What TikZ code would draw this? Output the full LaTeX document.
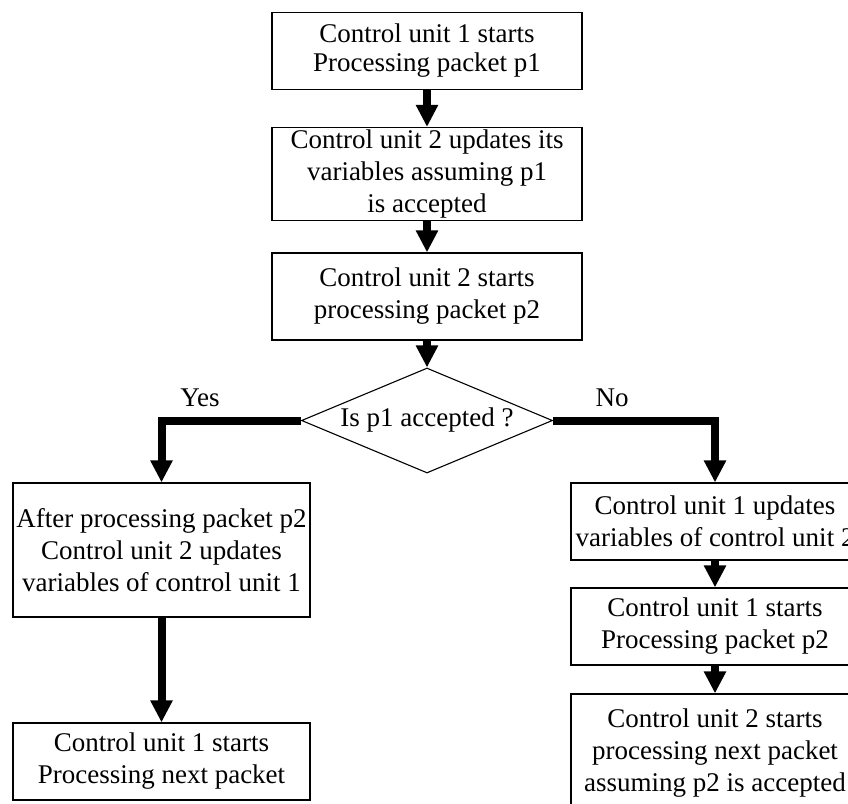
\documentclass[tikz,border=0pt]{standalone}
\usepackage{fontspec}
\setmainfont{Liberation Serif}
\usetikzlibrary{arrows.meta,shapes.geometric}

\tikzset{
  stepbox/.style={draw, line width=1.2pt, rectangle, inner sep=0pt,
    align=center, font=\fontsize{27}{32}\selectfont},
  decision/.style={draw, line width=1.1pt, diamond, aspect=2.39, inner sep=0pt,
    minimum width=251pt, minimum height=105pt,
    font=\fontsize{27}{32}\selectfont},
  flow/.style={line width=8pt, -{Triangle[length=22pt,width=21pt]}},
  branchlabel/.style={font=\fontsize{27}{32}\selectfont, inner sep=0pt}
}

\begin{document}
\begin{tikzpicture}[x=1pt, y=-1pt]
  \useasboundingbox (0,0) rectangle (848,803);
  \clip (0,0) rectangle (848,803);

  % main column
  \node[stepbox, minimum width=310pt, minimum height=77pt,
        font=\fontsize{27}{29}\selectfont] (s1) at (427,51)
    {Control unit 1 starts\\Processing packet p1};
  \node[stepbox, minimum width=310pt, minimum height=93pt] (s2) at (427,174)
    {Control unit 2 updates its\\variables assuming p1\\is accepted};
  \node[stepbox, minimum width=310pt, minimum height=87pt] (s3) at (427,296.5)
    {Control unit 2 starts\\processing packet p2};
  \node[decision] (d) at (427,420.5) {Is p1 accepted ?};

  % accepted branch
  \node[stepbox, minimum width=297pt, minimum height=134pt] (y1) at (161.5,550)
    {After processing packet p2\\Control unit 2 updates\\variables of control unit 1};
  \node[stepbox, minimum width=297pt, minimum height=77pt] (y2) at (161.5,761.5)
    {Control unit 1 starts\\Processing next packet};

  % rejected branch
  \node[stepbox, minimum width=288pt, minimum height=77pt] (n1) at (715,521.5)
    {Control unit 1 updates\\variables of control unit 2};
  \node[stepbox, minimum width=288pt, minimum height=77pt] (n2) at (715,626.5)
    {Control unit 1 starts\\Processing packet p2};
  \node[stepbox, minimum width=288pt, minimum height=118pt] (n3) at (715,753)
    {Control unit 2 starts\\processing next packet\\assuming p2 is accepted};

  % connectors
  \draw[flow] (s1.south) -- (s2.north);
  \draw[flow] (s2.south) -- (s3.north);
  \draw[flow] (s3.south) -- (d.north);
  \draw[flow] (d.west) -| (y1.north);
  \draw[flow] (y1.south) -- (y2.north);
  \draw[flow] (d.east) -| (n1.north);
  \draw[flow] (n1.south) -- (n2.north);
  \draw[flow] (n2.south) -- (n3.north);

  % branch labels
  \node[branchlabel] (yes) at (200,398) {Yes};
  \node[branchlabel] (no) at (612,398) {No};
\end{tikzpicture}
\end{document}
